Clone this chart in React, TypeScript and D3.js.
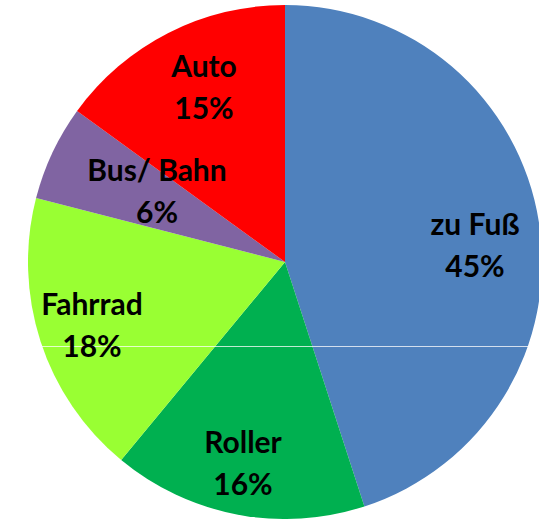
import React from "react";
import * as d3 from "d3";

const categories = ["zu Fuß", "Roller", "Fahrrad", "Bus/ Bahn", "Auto"];
const values = [45, 16, 18, 6, 15];
const colors = ["#4f81bd", "#00b050", "#99ff33", "#8064a2", "#ff0000"];
const labelPositions: [number, number][] = [
  [475, 224],
  [243, 442],
  [92, 304],
  [157, 170],
  [204, 66],
];

const W = 539;
const H = 519;
const cx = 285;
const cy = 262;
const R = 257;

export default function App() {
  const data = categories.map((c, i) => ({ c, v: values[i], i }));
  const pie = d3
    .pie<{ c: string; v: number; i: number }>()
    .sort(null)
    .value((d) => d.v)
    .startAngle(0)
    .endAngle(2 * Math.PI);
  const arcs = pie(data);
  const arc = d3
    .arc<d3.PieArcDatum<{ c: string; v: number; i: number }>>()
    .innerRadius(0)
    .outerRadius(R);
  return (
    <svg
      width={W}
      height={H}
      style={{ position: "absolute", left: 0, top: 0, background: "#fff" }}
    >
      <g transform={`translate(${cx},${cy})`}>
        {arcs.map((a) => (
          <path key={a.data.c} d={arc(a) || ""} fill={colors[a.data.i]} />
        ))}
      </g>
      <line x1={37} x2={W} y1={346.5} y2={346.5} stroke="#ffffff" strokeOpacity={0.75} strokeWidth={1} />
      {arcs.map((a, i) => {
        const [x, y] = labelPositions[i];
        return (
          <text
            key={a.data.c}
            x={x}
            y={y}
            textAnchor="middle"
            fontFamily="Lato, 'Open Sans', sans-serif"
            fontWeight="bold"
            fontSize={30}
            fill="#000"
          >
            <tspan x={x} dy="0.35em">{a.data.c}</tspan>
            <tspan x={x} dy="42">{`${a.data.v}%`}</tspan>
          </text>
        );
      })}
    </svg>
  );
}
